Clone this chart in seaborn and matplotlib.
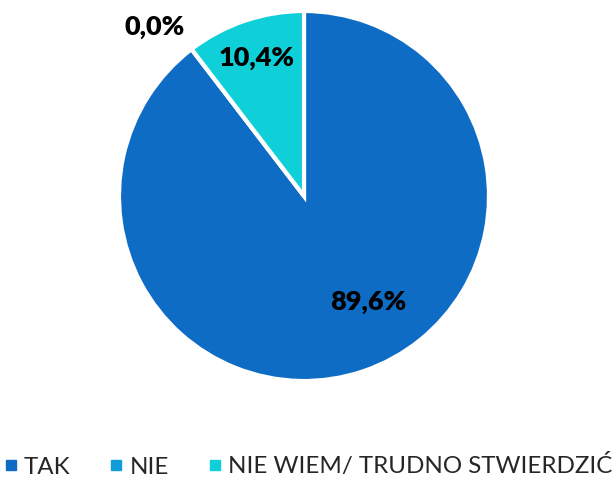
import matplotlib
matplotlib.use("Agg")
import matplotlib.pyplot as plt
from matplotlib.lines import Line2D
import seaborn as sns

sns.set_theme(style="white")
plt.rcParams["font.family"] = ["Lato", "DejaVu Sans"]

categories = ["TAK", "NIE", "NIE WIEM/ TRUDNO STWIERDZIĆ"]
values = [89.6, 0.0, 10.4]
colors = ["#0F6CC4", "#0E9DD9", "#0FCFD8"]
# label anchor points in axes data units
label_xy = [(0.346, -0.573), (-0.805, 0.914), (-0.254, 0.746)]

fig = plt.figure(figsize=(6.12, 4.78), dpi=100)
ax = fig.add_axes([119 / 612, 1 - 381 / 478, 370 / 612, 370 / 478])

ax.pie(values, colors=colors, startangle=90, counterclock=False,
       wedgeprops=dict(edgecolor="white", linewidth=3), radius=1.0)
ax.set_xlim(-1, 1)
ax.set_ylim(-1, 1)
ax.set_aspect("auto")

for v, (x, y) in zip(values, label_xy):
    ax.text(x, y, f"{v:.1f}%".replace(".", ","), ha="center", va="center",
            fontsize=19.5, fontweight="heavy", color="black")

handles = [Line2D([0], [0], marker="s", linestyle="", markersize=6.5,
                  markerfacecolor=c, markeredgecolor=c) for c in colors]
fig.legend(handles, categories, loc="center", bbox_to_anchor=(308 / 612, 1 - 466 / 478),
           ncol=3, frameon=False, fontsize=17.4, handletextpad=0.25,
           columnspacing=1.6, handlelength=0.6, borderpad=0, borderaxespad=0)

fig.savefig("out.png", dpi=100)
